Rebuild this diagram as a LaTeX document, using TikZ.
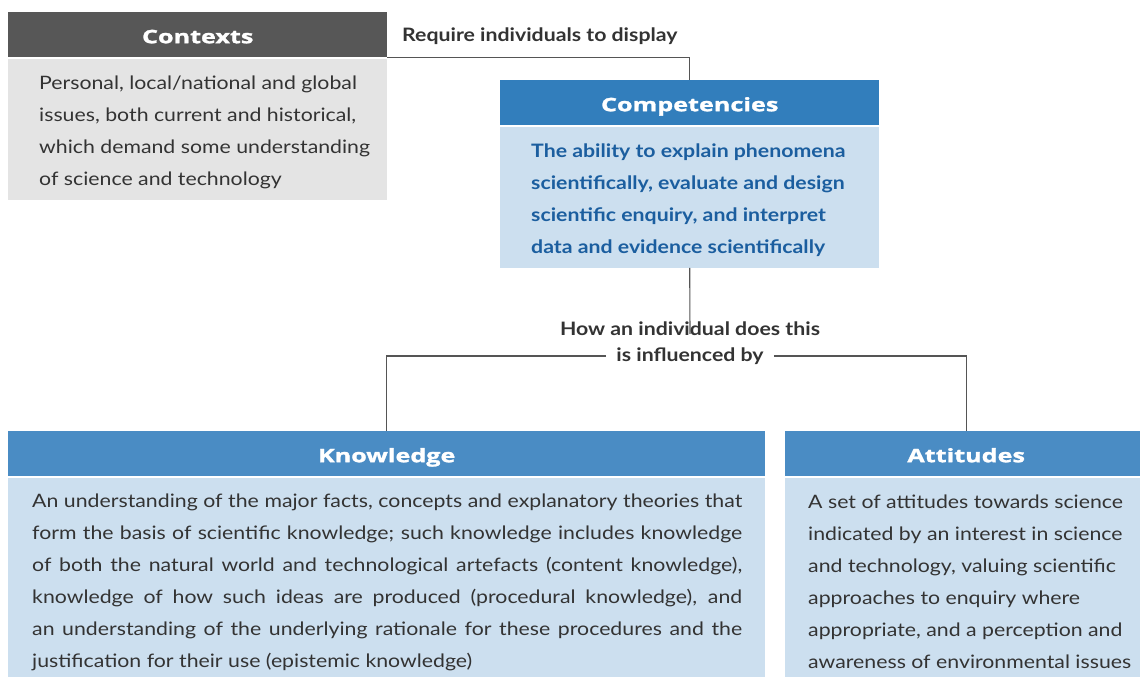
\documentclass[tikz,border=0pt]{standalone}
\usepackage{fontspec}
\setmainfont{Lato}[FakeStretch=1.15]
\newfontfamily\headfont{Open Sans}[FakeStretch=1.36, FakeBold=1.6]
\definecolor{ctxdark}{HTML}{575757}
\definecolor{ctxlight}{HTML}{E4E4E4}
\definecolor{compblue}{HTML}{327EBC}
\definecolor{knowblue}{HTML}{4A8CC4}
\definecolor{lightblue}{HTML}{CCDFEF}
\definecolor{comptext}{HTML}{1B5E9F}
\definecolor{bodytext}{HTML}{333333}
\definecolor{linegray}{HTML}{555555}
\begin{document}
\begin{tikzpicture}[x=1pt,y=-1pt,
  header/.style={anchor=north west, inner sep=0pt, text=white,
    font=\headfont\bfseries\fontsize{18.5}{22}\selectfont, minimum height=45pt,
    text height=17pt, text depth=0pt},
  bodybox/.style={anchor=north west, inner sep=0pt, minimum height=141pt},
  bodytxt/.style={anchor=west, align=left, inner sep=0pt, text=bodytext,
    font=\fontsize{18.5}{32}\selectfont},
  conn/.style={draw=linegray, line width=1.1pt},
  lbl/.style={inner sep=0pt, text=bodytext, font=\bfseries\fontsize{18.5}{22}\selectfont}
]
\useasboundingbox (0,0) rectangle (1140,677);
\fill[white] (0,0) rectangle (1140,677);

% Contexts
\node[header, fill=ctxdark, minimum width=379pt] (ctxh) at (8,12) {Contexts};
\node[bodybox, fill=ctxlight, minimum width=379pt] (ctxb) at (8,58.5) {};
\node[bodytxt] (ctxt) at (39,132) {Personal, local/national and global\\issues, both current and historical,\\which demand some understanding\\of science and technology};

% Competencies
\node[header, fill=compblue, minimum width=379pt] (comph) at (500,80) {Competencies};
\node[bodybox, fill=lightblue, minimum width=379pt] (compb) at (500,126.5) {};
\node[bodytxt, text=comptext, font=\bfseries\fontsize{18.5}{32}\selectfont] (compt) at (531,200) {The ability to explain phenomena\\scientifically, evaluate and design\\scientific enquiry, and interpret\\data and evidence scientifically};

% Knowledge
\node[header, fill=knowblue, minimum width=757pt] (knowh) at (8,431) {Knowledge};
\node[bodybox, fill=lightblue, minimum width=757pt, minimum height=200pt] (knowb) at (8,477.5) {};
\node[bodytxt] (knowt) at (32,582) {\makebox[710pt][s]{An understanding of the major facts, concepts and explanatory theories that}\\
\makebox[710pt][s]{form the basis of scientific knowledge; such knowledge includes knowledge}\\
\makebox[710pt][s]{of both the natural world and technological artefacts (content knowledge),}\\
\makebox[710pt][s]{knowledge of how such ideas are produced (procedural knowledge), and}\\
\makebox[710pt][s]{an understanding of the underlying rationale for these procedures and the}\\
justification for their use (epistemic knowledge)};

% Attitudes
\node[header, fill=knowblue, minimum width=362pt] (atth) at (785,431) {Attitudes};
\node[bodybox, fill=lightblue, minimum width=362pt, minimum height=200pt] (attb) at (785,477.5) {};
\node[bodytxt] (attt) at (808,582) {A set of attitudes towards science\\indicated by an interest in science\\and technology, valuing scientific\\approaches to enquiry where\\appropriate, and a perception and\\awareness of environmental issues};

% Labels
\node[lbl, anchor=west] (req) at (402,36) {Require individuals to display};
\node[lbl] (how) at (690,329) {How an individual does this};
\node[lbl] (infl) at (690,356) {is influenced by};

% Connectors
\draw[conn] (ctxh.south east) -| (comph.north);
\draw[conn] (compb.south) -- ([yshift=-12pt]how.north);
\draw[conn] ([xshift=-10pt]infl.west) -| (knowh.north);
\draw[conn] ([xshift=10pt]infl.east) -| (atth.north);
\end{tikzpicture}
\end{document}
